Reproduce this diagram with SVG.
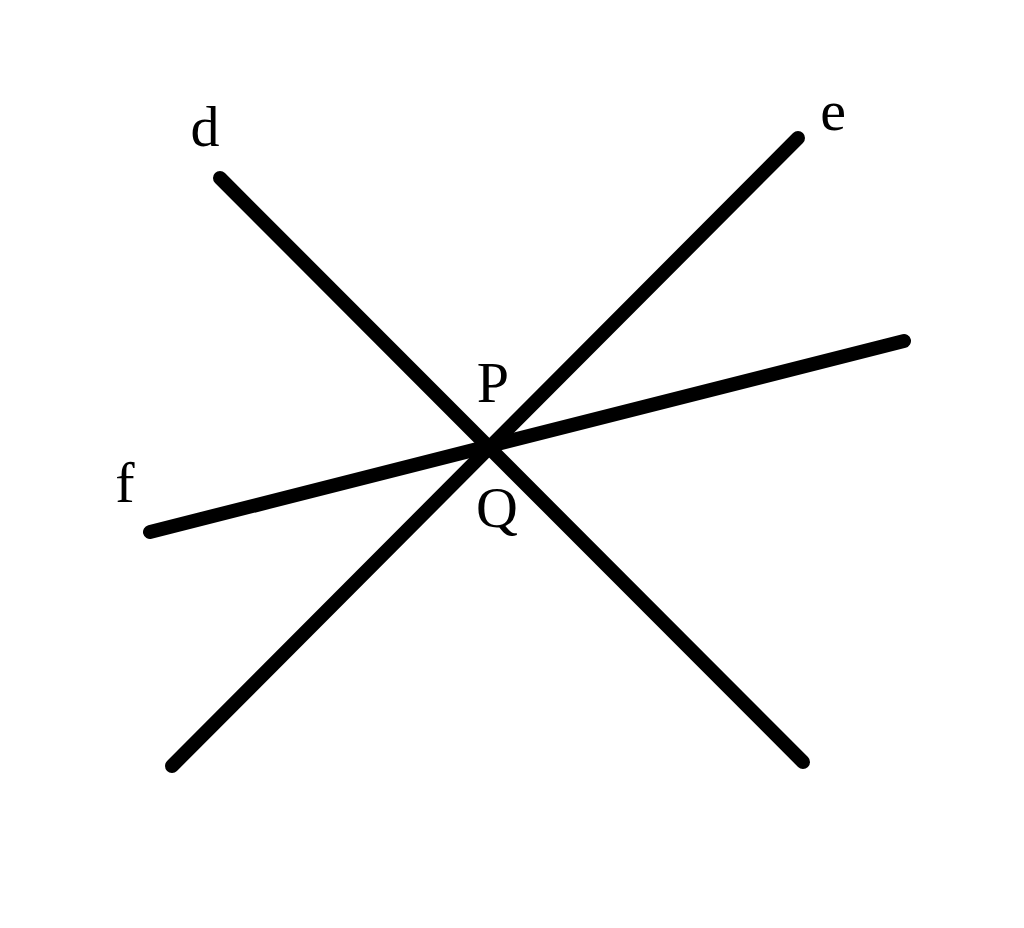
<svg xmlns="http://www.w3.org/2000/svg" width="1024" height="928" viewBox="0 0 1024 928">
<style>
.ln{stroke:#000;stroke-width:14;stroke-linecap:round;fill:none}
.lb{font-family:"Liberation Serif",serif;font-size:58px;fill:#000;text-anchor:middle}
</style>
<rect width="1024" height="928" fill="#fff"/>
<g id="connectors">
<line class="ln" x1="220" y1="178" x2="803" y2="762"/>
<line class="ln" x1="798" y1="138" x2="172" y2="766"/>
<line class="ln" x1="150" y1="532" x2="904" y2="341"/>
</g>
<g id="label-d"><text class="lb" x="205" y="146">d</text></g>
<g id="label-e"><text class="lb" x="833" y="130">e</text></g>
<g id="label-f"><text class="lb" x="125" y="502">f</text></g>
<g id="label-P"><text class="lb" x="493" y="402">P</text></g>
<g id="label-Q"><text class="lb" x="497" y="527">Q</text></g>
</svg>
